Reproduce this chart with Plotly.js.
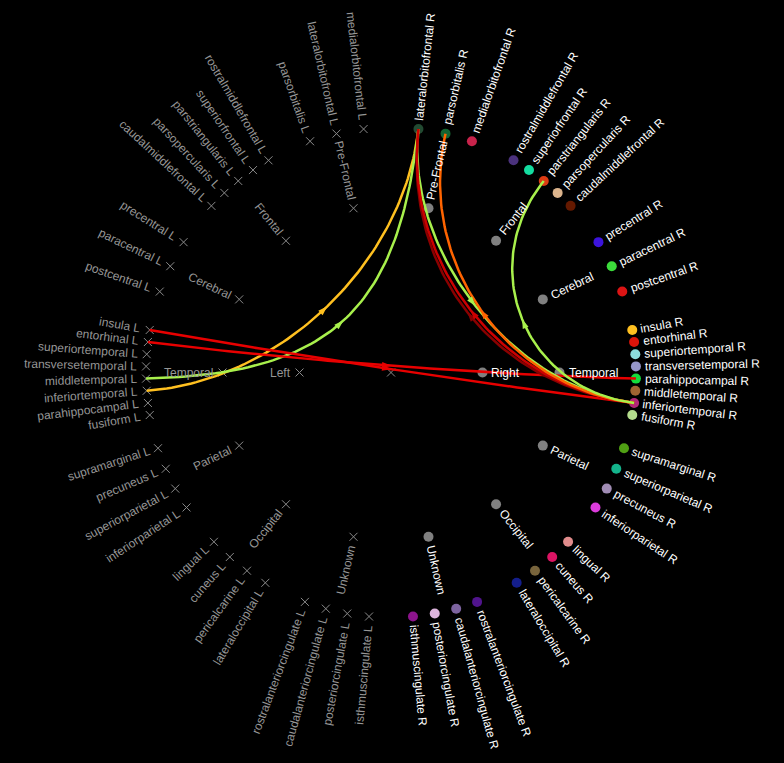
<!DOCTYPE html>
<html><head><meta charset="utf-8">
<script src="https://cdn.plot.ly/plotly-3.0.1.min.js"></script>
<style>html,body{margin:0;padding:0;background:#000;}#chart{width:784px;height:763px;}</style>
</head><body><div id="chart"></div>
<script>
// ---------------- DATA ----------------
const lobeNames = ['Pre-Frontal','Frontal','Cerebral','Temporal','Parietal','Occipital','Unknown'];

const rightRegions = [
  ['lateralorbitofrontal','parsorbitalis','medialorbitofrontal'],
  ['rostralmiddlefrontal','superiorfrontal','parstriangularis','parsopercularis','caudalmiddlefrontal'],
  ['precentral','paracentral','postcentral'],
  ['insula','entorhinal','superiortemporal','transversetemporal','parahippocampal','middletemporal','inferiortemporal','fusiform'],
  ['supramarginal','superiorparietal','precuneus','inferiorparietal'],
  ['lingual','cuneus','pericalcarine','lateraloccipital'],
  ['rostralanteriorcingulate','caudalanteriorcingulate','posteriorcingulate','isthmuscingulate']
];

const leftRegions = [
  ['medialorbitofrontal','lateralorbitofrontal','parsorbitalis'],
  ['rostralmiddlefrontal','superiorfrontal','parstriangularis','parsopercularis','caudalmiddlefrontal'],
  ['precentral','paracentral','postcentral'],
  ['insula','entorhinal','superiortemporal','transversetemporal','middletemporal','inferiortemporal','parahippocampal','fusiform'],
  ['supramarginal','precuneus','superiorparietal','inferiorparietal'],
  ['lingual','cuneus','pericalcarine','lateraloccipital'],
  ['rostralanteriorcingulate','caudalanteriorcingulate','posteriorcingulate','isthmuscingulate']
];

const regionColors = {
  lateralorbitofrontal:'#234b32', parsorbitalis:'#146432', medialorbitofrontal:'#c8234b',
  rostralmiddlefrontal:'#4b327d', superiorfrontal:'#14dca0', parstriangularis:'#dc3c14',
  parsopercularis:'#dcb48c', caudalmiddlefrontal:'#641900',
  precentral:'#3c14dc', paracentral:'#3cdc3c', postcentral:'#dc1414',
  insula:'#ffc020', entorhinal:'#dc140a', superiortemporal:'#8cdcdc', transversetemporal:'#9696c8',
  parahippocampal:'#14dc3c', middletemporal:'#a06432', inferiortemporal:'#b42878', fusiform:'#b4dc8c',
  supramarginal:'#50a014', superiorparietal:'#14b48c', precuneus:'#a08cb4', inferiorparietal:'#dc3cdc',
  lingual:'#e18c8c', cuneus:'#dc1464', pericalcarine:'#78643c', lateraloccipital:'#141e8c',
  rostralanteriorcingulate:'#50148c', caudalanteriorcingulate:'#7d64a0',
  posteriorcingulate:'#dcb4dc', isthmuscingulate:'#8c148c'
};

const edgeSources = ['inferiortemporal L','middletemporal L','insula L','entorhinal L',
  'lateralorbitofrontal R','inferiortemporal R','inferiortemporal R','inferiortemporal R','inferiortemporal R'];
const edgeTargets = ['lateralorbitofrontal R','lateralorbitofrontal R','inferiortemporal R','parahippocampal R',
  'inferiortemporal R','lateralorbitofrontal R','lateralorbitofrontal R','parsorbitalis R','parstriangularis R'];
const edgeColors = ['#ffc020','#a8f04c','#e80000','#e80000',
  '#a8f04c','#8b0000','#cc0000','#ff6400','#a8f04c'];
const edgeCurvature = [0.45,0.25,0.4,0.4,0.5,0.42,0.45,0.47,0.55];

// ---------------- LAYOUT GEOMETRY ----------------
const PX = 245;                       // pixels per unit radius
const R_LEAF = 1, R_LOBE = 168.5/PX, R_HEMI = 91.5/PX;
const SECTOR = 180 / lobeNames.length;
const rad = d => d*Math.PI/180;
const nodes = {};
function addNode(name, r, ang, label, side, kind){
  nodes[name] = {x:r*Math.cos(rad(ang)), y:r*Math.sin(rad(ang)), ang, label, side, kind};
}
nodes['root'] = {x:0, y:0, ang:0, label:'', side:'L', kind:'root'};
addNode('Right', R_HEMI, 0, 'Right', 'R', 'hemi');
addNode('Left', R_HEMI, 180, 'Left', 'L', 'hemi');
lobeNames.forEach((lobe, i) => {
  const c = 90 - SECTOR*(i+0.5);
  addNode(lobe+' R', R_LOBE, c, lobe, 'R', 'lobe');
  addNode(lobe+' L', R_LOBE, 180-c, lobe, 'L', 'lobe');
  const rr = rightRegions[i];
  rr.forEach((reg, k) => {
    const a = c + SECTOR/2 - SECTOR*(k+1)/(rr.length+1);
    addNode(reg+' R', R_LEAF, a, reg+' R', 'R', 'leaf');
    nodes[reg+' R'].color = regionColors[reg];
  });
  const ll = leftRegions[i];
  ll.forEach((reg, k) => {
    const a = 180 - (c + SECTOR/2 - SECTOR*(k+1)/(ll.length+1));
    addNode(reg+' L', R_LEAF, a, reg+' L', 'L', 'leaf');
  });
});

function cubic(p0, c1, c2, p3, t){
  const u = 1-t;
  return [u*u*u*p0[0] + 3*u*u*t*c1[0] + 3*u*t*t*c2[0] + t*t*t*p3[0],
          u*u*u*p0[1] + 3*u*u*t*c1[1] + 3*u*t*t*c2[1] + t*t*t*p3[1]];
}

const traces = [];
const rl = Object.keys(nodes).filter(k => nodes[k].side==='R' && nodes[k].kind==='leaf');
traces.push({type:'scatter', mode:'markers', x:rl.map(k=>nodes[k].x), y:rl.map(k=>nodes[k].y),
  marker:{size:10, color:rl.map(k=>nodes[k].color), line:{width:0}}, hoverinfo:'skip'});
const ri = Object.keys(nodes).filter(k => nodes[k].side==='R' && nodes[k].kind!=='leaf');
traces.push({type:'scatter', mode:'markers', x:ri.map(k=>nodes[k].x), y:ri.map(k=>nodes[k].y),
  marker:{size:10, color:'#808080', line:{width:0}}, hoverinfo:'skip'});
const lx = Object.keys(nodes).filter(k => nodes[k].side==='L');
traces.push({type:'scatter', mode:'markers', x:lx.map(k=>nodes[k].x), y:lx.map(k=>nodes[k].y),
  marker:{size:8, symbol:'x-thin', color:'#8a8a8a', line:{width:1, color:'#8a8a8a'}}, hoverinfo:'skip'});

const arrowX=[], arrowY=[], arrowA=[], arrowC=[];
edgeSources.forEach((s, i) => {
  const a = nodes[s], b = nodes[edgeTargets[i]], k = edgeCurvature[i];
  const p0 = [a.x, a.y], p3 = [b.x, b.y], c1 = [k*a.x, k*a.y], c2 = [k*b.x, k*b.y];
  const pts = [];
  for (let j=0; j<=80; j++) pts.push(cubic(p0, c1, c2, p3, j/80));
  traces.push({type:'scatter', mode:'lines', x:pts.map(p=>p[0]), y:pts.map(p=>p[1]),
    line:{color:edgeColors[i], width:2.5}, hoverinfo:'skip'});
  const m = cubic(p0, c1, c2, p3, 0.5), m2 = cubic(p0, c1, c2, p3, 0.51);
  arrowX.push(m[0]); arrowY.push(m[1]);
  arrowA.push(Math.atan2(m2[0]-m[0], m2[1]-m[1])*180/Math.PI); arrowC.push(edgeColors[i]);
});
traces.push({type:'scatter', mode:'markers', x:arrowX, y:arrowY,
  marker:{symbol:'arrow', size:10, angle:arrowA, color:arrowC, line:{width:0}}, hoverinfo:'skip'});

const FONT = '"Liberation Sans", Arial, sans-serif';
const cvs = document.createElement('canvas').getContext('2d');
cvs.font = '12px ' + FONT;
const annotations = [];
Object.keys(nodes).forEach(k => {
  const nd = nodes[k];
  if (!nd.label) return;
  const w = cvs.measureText(nd.label).width;
  const ux = Math.cos(rad(nd.ang)), uy = Math.sin(rad(nd.ang));
  let ta = nd.side==='R' ? -nd.ang : 180 - nd.ang;
  if (nd.kind==='hemi') ta = 0;
  const d = (9 + w/2)/PX;
  annotations.push({x: nd.x + ux*d, y: nd.y + uy*d, xref:'x', yref:'y', text: nd.label,
    showarrow:false, textangle: ta, xanchor:'center', yanchor:'middle',
    font:{family:FONT, size:12, color: nd.side==='R' ? '#ffffff' : '#969696'}});
});

const layout = {
  width:784, height:763, margin:{l:0,r:0,t:0,b:0},
  paper_bgcolor:'#000000', plot_bgcolor:'#000000', showlegend:false, hovermode:false,
  xaxis:{range:[-391/PX, (784-391)/PX], visible:false, fixedrange:true},
  yaxis:{range:[-(763-372.5)/PX, 372.5/PX], visible:false, fixedrange:true},
  annotations
};
Plotly.newPlot('chart', traces, layout, {staticPlot:true, displayModeBar:false});
</script></body></html>
